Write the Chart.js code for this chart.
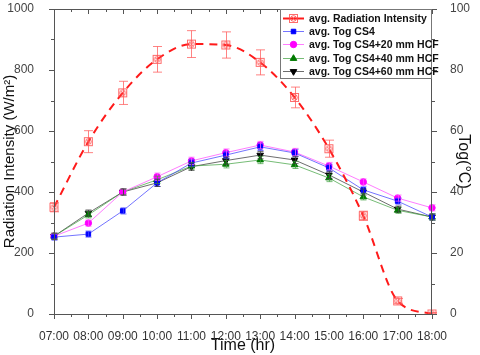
<!DOCTYPE html>
<html lang="en">
<head>
    <meta charset="UTF-8">
    <title>Radiation Intensity and Tog</title>
    <script src="https://cdn.jsdelivr.net/npm/chart.js"></script>
    <style>
        html, body { margin: 0; padding: 0; background: #ffffff; }
        canvas { display: block; }
    </style>
</head>
<body>
<canvas id="chart" width="480" height="355"></canvas>

<script>
    // data
    const hours = ['07:00', '08:00', '09:00', '10:00', '11:00', '12:00', '13:00', '14:00', '15:00', '16:00', '17:00', '18:00'];
    const radiation = [350, 565, 725, 835, 885, 882, 825, 710, 542, 322, 43, 0];
    const radiationErr = [15, 36, 38, 42, 44, 43, 41, 34, 28, 15, 8, 5];
    const togCS4 = [25.2, 26.2, 33.8, 43, 49.5, 52.1, 54.8, 52.8, 47.9, 40.7, 37, 31.8];
    const togHCF20 = [25.5, 29.8, 40, 45, 50.2, 52.9, 55.4, 53.1, 48.5, 43.3, 38, 34.8];
    const togHCF40 = [25.5, 32.5, 40, 44, 48.5, 49.1, 50.5, 48.9, 44.6, 38.4, 34, 31.8];
    const togHCF60 = [25.5, 33.1, 40, 43, 48.3, 50.3, 52.1, 50.5, 45.6, 40, 34.4, 31.8];
    const togErr = [1, 1, 1, 1.2, 1.2, 1.2, 1.2, 1.2, 1.2, 1, 1, 1];

    const fontFamily = 'Arial, "Liberation Sans", sans-serif';

    // crossed square marker for the radiation series
    function makeRadMarker() {
        const c = document.createElement('canvas');
        c.width = 11;
        c.height = 11;
        const g = c.getContext('2d');
        g.strokeStyle = 'rgba(255, 70, 70, 0.8)';
        g.lineWidth = 1;
        g.strokeRect(1.5, 1.5, 8, 8);
        g.beginPath();
        g.arc(5.5, 5.5, 2.8, 0, Math.PI * 2);
        g.stroke();
        g.beginPath();
        g.moveTo(3.5, 3.5); g.lineTo(7.5, 7.5);
        g.moveTo(7.5, 3.5); g.lineTo(3.5, 7.5);
        g.stroke();
        return c;
    }
    const radMarker = makeRadMarker();

    // error bars through the scales
    const errorBars = {
        id: 'errorBars',
        afterDatasetsDraw(chart) {
            const ctx = chart.ctx;
            chart.data.datasets.forEach((ds, i) => {
                if (!ds.errors) return;
                const meta = chart.getDatasetMeta(i);
                const ys = chart.scales[ds.yAxisID];
                ctx.save();
                ctx.strokeStyle = ds.errorColor;
                ctx.lineWidth = 1;
                meta.data.forEach((pt, j) => {
                    const v = ds.data[j];
                    const e = ds.errors[j];
                    const top = ys.getPixelForValue(v + e);
                    const bot = ys.getPixelForValue(Math.max(v - e, ys.min));
                    const x = Math.round(pt.x) + 0.5;
                    ctx.beginPath();
                    ctx.moveTo(x, top); ctx.lineTo(x, bot);
                    ctx.moveTo(x - ds.capWidth, top); ctx.lineTo(x + ds.capWidth, top);
                    ctx.moveTo(x - ds.capWidth, bot); ctx.lineTo(x + ds.capWidth, bot);
                    ctx.stroke();
                });
                ctx.restore();
            });
        }
    };

    // frame, major and minor ticks
    const frameTicks = {
        id: 'frameTicks',
        afterDraw(chart) {
            const ctx = chart.ctx;
            const a = chart.chartArea;
            const x = chart.scales.x;
            const y = chart.scales.y;
            const y1 = chart.scales.y1;
            ctx.save();
            ctx.strokeStyle = '#555555';
            ctx.lineWidth = 1;
            ctx.strokeRect(Math.round(a.left) + 0.5, Math.round(a.top) + 0.5,
                Math.round(a.right - a.left) - 1, Math.round(a.bottom - a.top));
            ctx.beginPath();
            // x ticks: outward at bottom, inward at top
            for (let i = 0; i < hours.length; i++) {
                const px = Math.round(x.getPixelForValue(i)) + 0.5;
                ctx.moveTo(px, a.bottom); ctx.lineTo(px, a.bottom + 5);
                ctx.moveTo(px, a.top); ctx.lineTo(px, a.top + 5);
                if (i < hours.length - 1) {
                    const mx = Math.round((x.getPixelForValue(i) + x.getPixelForValue(i + 1)) / 2) + 0.5;
                    ctx.moveTo(mx, a.bottom); ctx.lineTo(mx, a.bottom + 3);
                    ctx.moveTo(mx, a.top); ctx.lineTo(mx, a.top + 3);
                }
            }
            // left axis ticks
            for (let v = 0; v <= 1000; v += 100) {
                const py = Math.round(y.getPixelForValue(v)) + 0.5;
                const len = v % 200 === 0 ? 5 : 3;
                ctx.moveTo(a.left, py); ctx.lineTo(a.left - len, py);
            }
            // right axis ticks
            for (let v = 0; v <= 100; v += 10) {
                const py = Math.round(y1.getPixelForValue(v)) + 0.5;
                const len = v % 20 === 0 ? 5 : 3;
                ctx.moveTo(a.right, py); ctx.lineTo(a.right + len, py);
            }
            ctx.stroke();
            ctx.restore();
        }
    };

    // boxed legend inside the plot, top right
    const boxLegend = {
        id: 'boxLegend',
        afterDraw(chart) {
            const ctx = chart.ctx;
            const a = chart.chartArea;
            const w = 152, rowH = 13.2;
            const left = Math.round(a.right - w), top = Math.round(a.top);
            const h = Math.round(rowH * chart.data.datasets.length + 3);
            ctx.save();
            ctx.fillStyle = '#ffffff';
            ctx.fillRect(left, top, w, h);
            ctx.strokeStyle = '#777777';
            ctx.lineWidth = 1;
            ctx.strokeRect(left + 0.5, top + 0.5, w - 1, h);
            ctx.font = 'bold 10.5px ' + fontFamily;
            ctx.textBaseline = 'middle';
            chart.data.datasets.forEach((ds, i) => {
                const cy = Math.round(top + 9 + i * rowH) + 0.5;
                ctx.strokeStyle = ds.legendLine || ds.borderColor;
                ctx.lineWidth = ds.borderWidth;
                ctx.beginPath();
                ctx.moveTo(left + 3, cy); ctx.lineTo(left + 24, cy);
                ctx.stroke();
                ctx.fillStyle = ds.pointBackgroundColor;
                ctx.strokeStyle = ds.pointBorderColor;
                ctx.lineWidth = 1;
                Chart.helpers.drawPoint(ctx, {
                    pointStyle: ds.pointStyle,
                    radius: ds.pointRadius,
                    rotation: ds.pointRotation || 0,
                    borderWidth: 1
                }, left + 13.5, cy);
                ctx.fillStyle = '#111111';
                ctx.fillText(ds.label, left + 29, cy + 0.5);
            });
            ctx.restore();
        }
    };

    function pointDataset(label, data, line, fill, style, radius, rotation) {
        return {
            label: label,
            data: data,
            yAxisID: 'y1',
            borderColor: line,
            borderWidth: 1,
            backgroundColor: fill,
            pointBackgroundColor: fill,
            pointBorderColor: fill,
            pointStyle: style,
            pointRadius: radius,
            pointRotation: rotation,
            tension: 0,
            errors: togErr,
            errorColor: line,
            capWidth: 3,
            order: 2
        };
    }

    // fixed box sizes so the plot sits where it does in the figure
    function fixBox(width, height) {
        return s => {
            if (width !== null) s.width = width;
            if (height !== null) s.height = height;
            s.paddingTop = 0;
            s.paddingBottom = 0;
            s.paddingLeft = 0;
            s.paddingRight = 0;
        };
    }

    const ctx = document.getElementById('chart').getContext('2d');
    new Chart(ctx, {
        type: 'line',
        data: {
            labels: hours,
            datasets: [
                {
                    label: 'avg. Radiation Intensity',
                    data: radiation,
                    yAxisID: 'y',
                    borderColor: '#ff1a1a',
                    legendLine: '#ff1a1a',
                    borderWidth: 2,
                    borderDash: [8, 6],
                    cubicInterpolationMode: 'monotone',
                    pointStyle: radMarker,
                    pointRadius: 6,
                    pointBackgroundColor: 'rgba(0,0,0,0)',
                    pointBorderColor: 'rgba(0,0,0,0)',
                    errors: radiationErr,
                    errorColor: 'rgba(255, 90, 90, 0.75)',
                    capWidth: 4.5,
                    order: 1
                },
                pointDataset('avg. Tog CS4', togCS4, 'rgba(70, 70, 255, 0.75)', '#0000ff', 'rect', 3.2, 0),
                pointDataset('avg. Tog CS4+20 mm HCF', togHCF20, 'rgba(255, 80, 255, 0.75)', '#ff00ff', 'circle', 3.2, 0),
                pointDataset('avg. Tog CS4+40 mm HCF', togHCF40, 'rgba(60, 160, 60, 0.7)', '#007a00', 'triangle', 3.8, 0),
                pointDataset('avg. Tog CS4+60 mm HCF', togHCF60, 'rgba(60, 60, 60, 0.75)', '#000000', 'triangle', 3.8, 180)
            ]
        },
        options: {
            responsive: false,
            animation: false,
            events: [],
            layout: { padding: { top: 9, left: 0, right: 0, bottom: 0 } },
            plugins: {
                legend: { display: false },
                tooltip: { enabled: false }
            },
            scales: {
                x: {
                    type: 'category',
                    offset: false,
                    grid: { display: false },
                    border: { display: false },
                    ticks: {
                        color: '#333333',
                        font: { family: fontFamily, size: 12 },
                        padding: 7,
                        maxRotation: 0,
                        autoSkip: false
                    },
                    title: {
                        display: true,
                        text: 'Time (hr)',
                        color: '#111111',
                        font: { family: fontFamily, size: 16 },
                        padding: { top: 0, bottom: 0 }
                    },
                    afterFit: fixBox(null, 41)
                },
                y: {
                    position: 'left',
                    min: 0,
                    max: 1000,
                    grid: { display: false },
                    border: { display: false },
                    ticks: {
                        stepSize: 200,
                        color: '#444444',
                        font: { family: fontFamily, size: 12 },
                        padding: 12,
                        callback: v => String(v)
                    },
                    title: {
                        display: true,
                        text: 'Radiation Intensity (W/m²)',
                        color: '#111111',
                        font: { family: fontFamily, size: 15 },
                        padding: { top: 1, bottom: 0 }
                    },
                    afterFit: fixBox(54, null)
                },
                y1: {
                    position: 'right',
                    min: 0,
                    max: 100,
                    grid: { display: false },
                    border: { display: false },
                    ticks: {
                        stepSize: 20,
                        color: '#444444',
                        font: { family: fontFamily, size: 12 },
                        padding: 10
                    },
                    title: {
                        display: true,
                        text: 'Tog(°C)',
                        color: '#111111',
                        font: { family: fontFamily, size: 16 },
                        padding: { top: 7, bottom: 0 }
                    },
                    afterFit: fixBox(48, null)
                }
            }
        },
        plugins: [errorBars, frameTicks, boxLegend]
    });
</script>
</body>
</html>
